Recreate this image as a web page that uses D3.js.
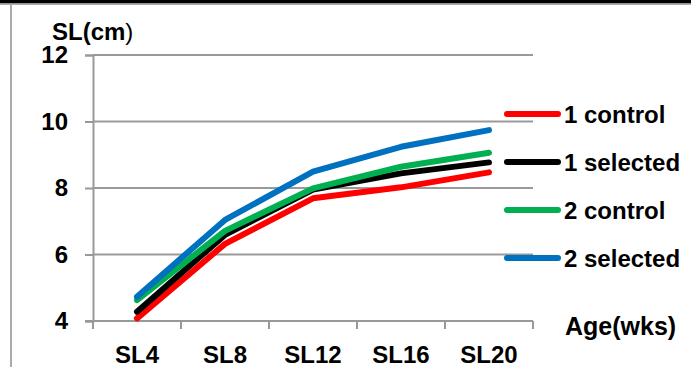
<!DOCTYPE html>
<html lang="en">
<head>
  <meta charset="UTF-8">
  <title>SL growth chart</title>
  <script src="https://d3js.org/d3.v7.min.js"></script>
  <style>
    body {
      margin: 0;
      background: #fff;
      font-family: "Liberation Sans", Arial, sans-serif;
    }
    text {
      font-weight: bold;
      fill: #000;
    }
  </style>
</head>
<body>
  <div id="chart"></div>

  <script>
    // Data
    const categories = ["SL4", "SL8", "SL12", "SL16", "SL20"];
    const control1 = [4.08, 6.32, 7.69, 8.02, 8.47];
    const selected1 = [4.28, 6.59, 7.95, 8.44, 8.77];
    const control2 = [4.63, 6.71, 7.99, 8.64, 9.06];
    const selected2 = [4.73, 7.04, 8.49, 9.24, 9.74];
    const yTicks = [4, 6, 8, 10, 12];

    const series = [
      { name: "1 control", values: control1, color: "#ff0000" },
      { name: "1 selected", values: selected1, color: "#000000" },
      { name: "2 control", values: control2, color: "#00b050" },
      { name: "2 selected", values: selected2, color: "#0070c0" }
    ];

    // Dimensions
    const width = 691;
    const height = 367;
    const margin = { top: 55, left: 93 };
    const plotW = 440;
    const plotH = 266;
    const gridColor = "#999";
    const fontSize = 24;

    const svg = d3
      .select("#chart")
      .append("svg")
      .attr("width", width)
      .attr("height", height);

    // Outer frame: thick top bar and left border
    svg.append("rect").attr("x", 0).attr("y", 0).attr("width", width).attr("height", 3.5).attr("fill", "#000");
    svg.append("rect").attr("x", 0).attr("y", 3.5).attr("width", width).attr("height", 1.5).attr("fill", "#aaa");
    svg.append("rect").attr("x", 10).attr("y", 4).attr("width", 2).attr("height", height).attr("fill", "#aaa");

    const g = svg.append("g").attr("transform", `translate(${margin.left},${margin.top})`);

    // Scales
    const x = d3.scaleBand().domain(categories).range([0, plotW]).padding(0);
    const y = d3.scaleLinear().domain([4, 12]).range([plotH, 0]);

    // Horizontal gridlines
    g.append("g")
      .selectAll("line")
      .data(yTicks)
      .join("line")
      .attr("x1", 0)
      .attr("x2", plotW)
      .attr("y1", (d) => y(d))
      .attr("y2", (d) => y(d))
      .attr("stroke", gridColor)
      .attr("stroke-width", 2);

    // Y axis
    const yAxis = g.append("g")
      .call(d3.axisLeft(y).tickValues(yTicks).tickSize(8).tickPadding(17).tickFormat(d3.format("d")));
    yAxis.selectAll("line").attr("stroke", gridColor).attr("stroke-width", 2);
    yAxis.select(".domain").attr("stroke", gridColor).attr("stroke-width", 2);
    yAxis.selectAll("text")
      .attr("font-size", fontSize)
      .attr("font-family", "Liberation Sans, Arial, sans-serif")
      .attr("font-weight", "bold")
      .attr("fill", "#000");

    // X axis: ticks on band edges
    const xAxis = g.append("g").attr("transform", `translate(0,${plotH})`);
    xAxis.append("line")
      .attr("x1", -8).attr("x2", plotW)
      .attr("stroke", gridColor).attr("stroke-width", 2);
    const edges = categories.map((c) => x(c)).concat([plotW]);
    xAxis.selectAll(".edge")
      .data(edges)
      .join("line")
      .attr("class", "edge")
      .attr("x1", (d) => d).attr("x2", (d) => d)
      .attr("y1", 0).attr("y2", 8)
      .attr("stroke", gridColor).attr("stroke-width", 2);
    xAxis.selectAll(".lbl")
      .data(categories)
      .join("text")
      .attr("class", "lbl")
      .attr("x", (d) => x(d) + x.bandwidth() / 2)
      .attr("y", 42)
      .attr("text-anchor", "middle")
      .attr("font-size", fontSize)
      .text((d) => d);

    // Lines
    const line = d3.line()
      .x((d, i) => x(categories[i]) + x.bandwidth() / 2)
      .y((d) => y(d));

    g.selectAll(".series")
      .data(series)
      .join("path")
      .attr("class", "series")
      .attr("fill", "none")
      .attr("stroke", (d) => d.color)
      .attr("stroke-width", 6)
      .attr("stroke-linecap", "round")
      .attr("stroke-linejoin", "round")
      .attr("d", (d) => line(d.values));

    // Axis titles
    const title = svg.append("text").attr("x", 52).attr("y", 40).attr("font-size", fontSize);
    title.append("tspan").text("SL(cm");
    title.append("tspan").attr("font-weight", "normal").text(")");

    svg.append("text").attr("x", 565).attr("y", 335).attr("font-size", 25).text("Age(wks)");

    // Legend
    const legend = svg.append("g").attr("transform", "translate(505,114)");
    const item = legend.selectAll(".item")
      .data(series)
      .join("g")
      .attr("class", "item")
      .attr("transform", (d, i) => `translate(0,${i * 48})`);
    item.append("line")
      .attr("x1", 2).attr("x2", 53)
      .attr("stroke", (d) => d.color)
      .attr("stroke-width", 6)
      .attr("stroke-linecap", "round");
    item.append("text")
      .attr("x", 59)
      .attr("y", 8.5)
      .attr("font-size", fontSize)
      .text((d) => d.name);
  </script>
</body>
</html>
